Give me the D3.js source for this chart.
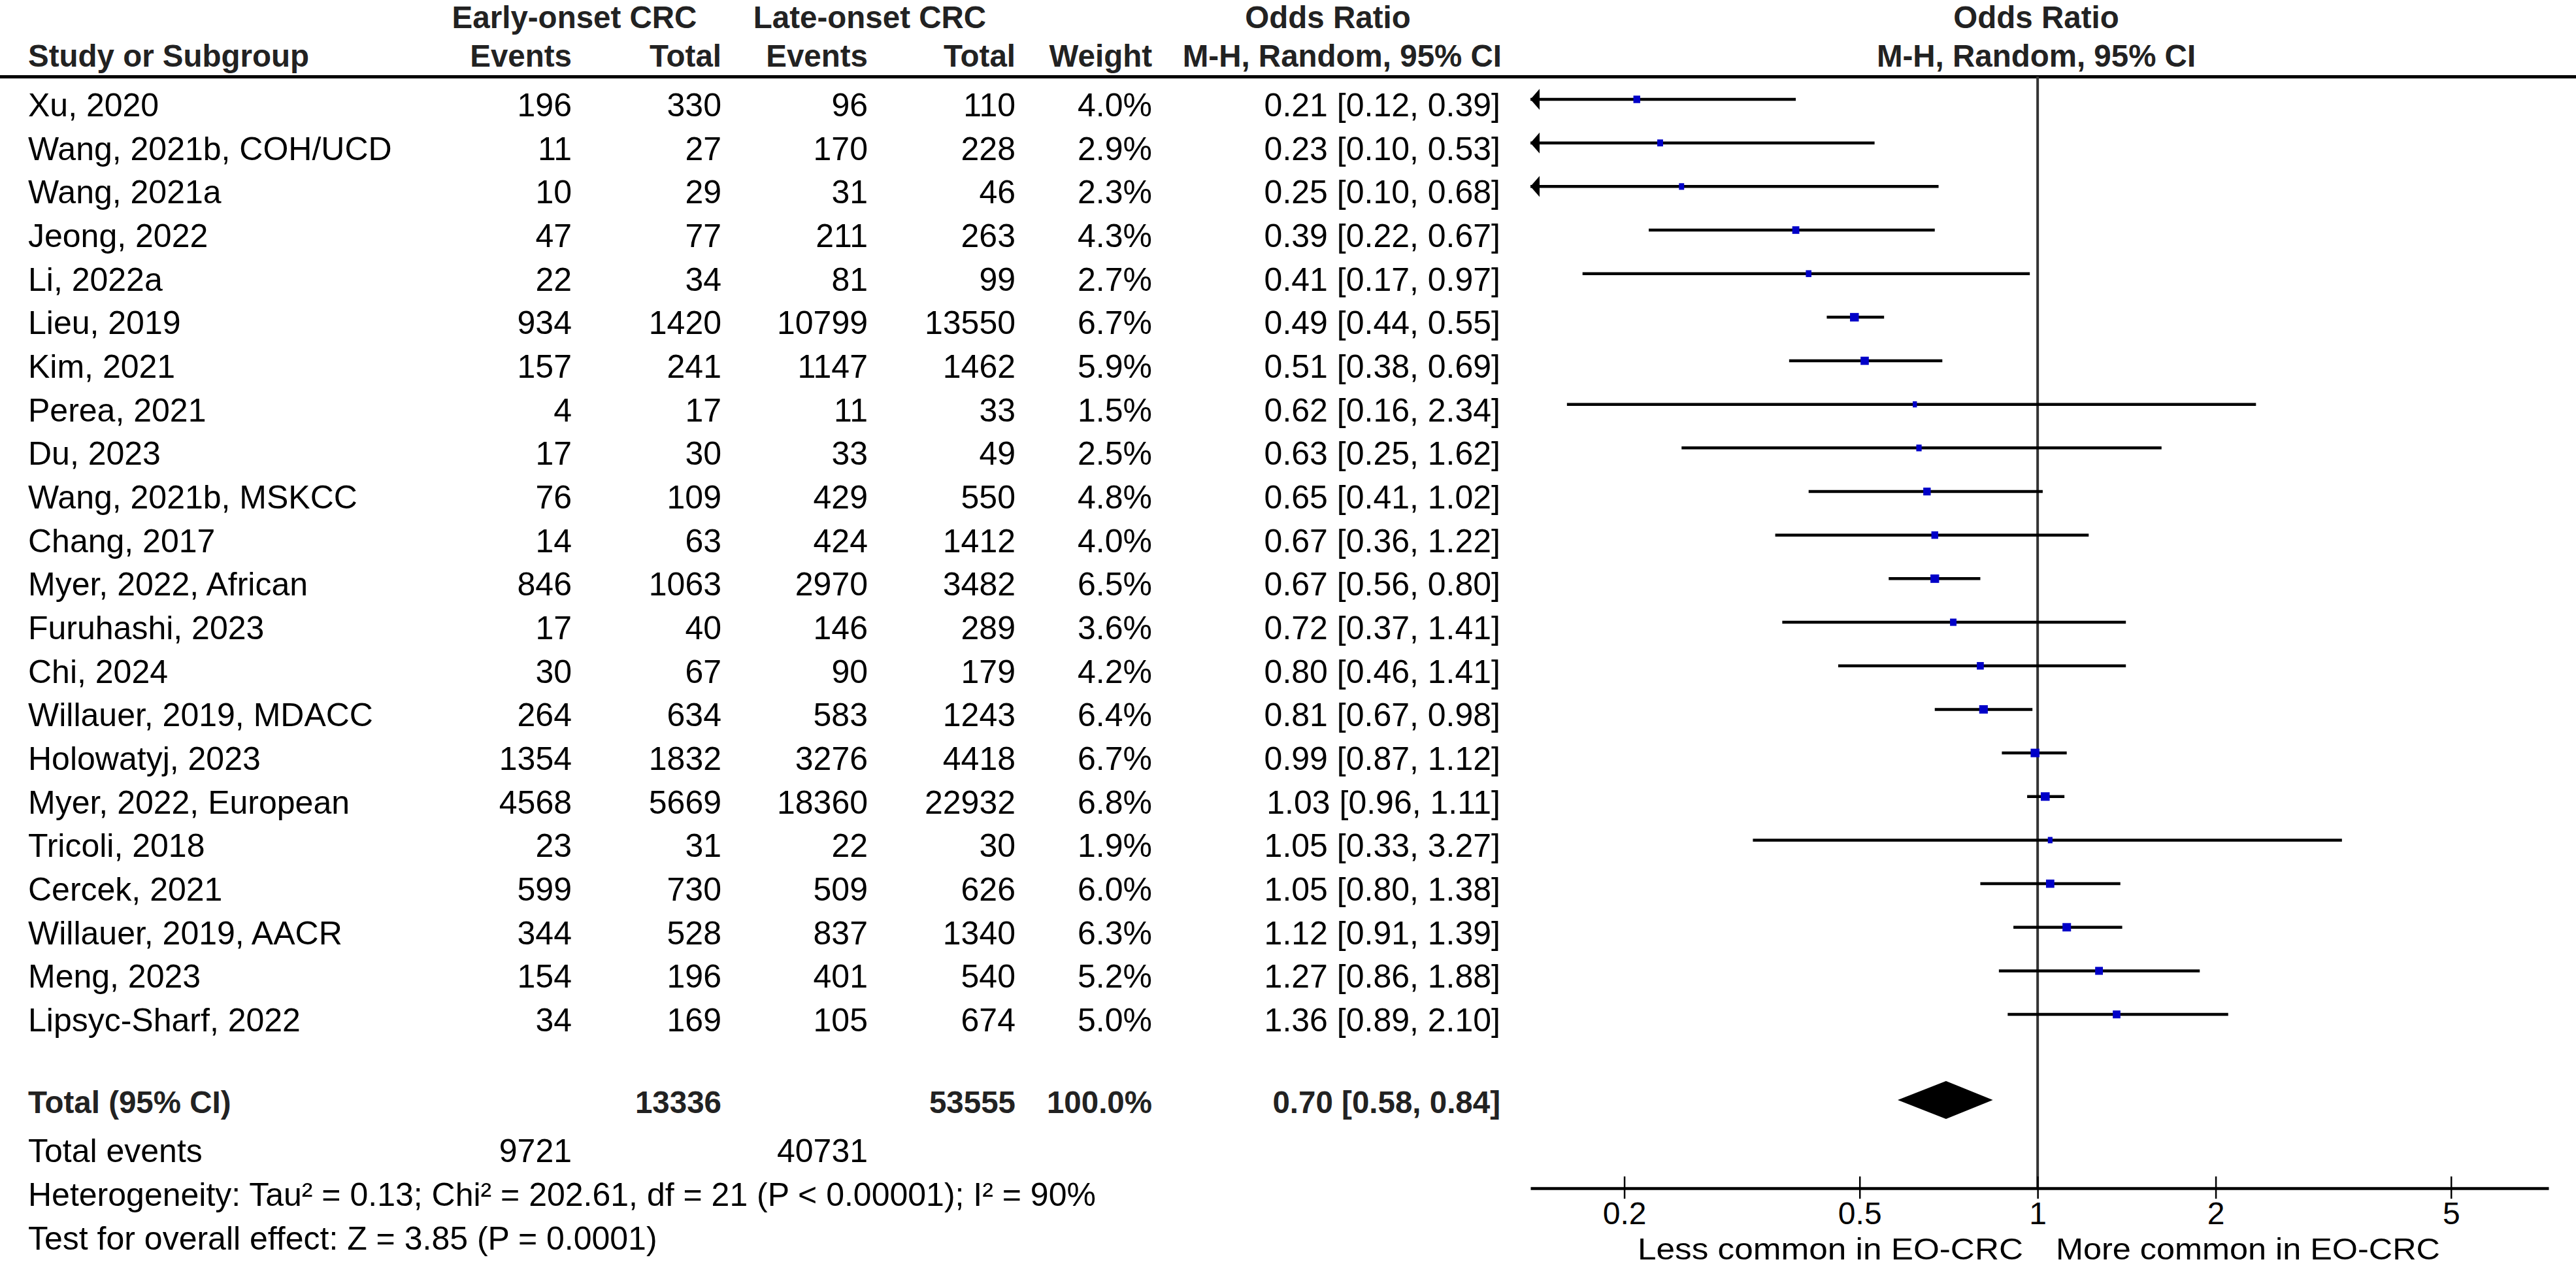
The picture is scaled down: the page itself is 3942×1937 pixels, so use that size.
<!DOCTYPE html>
<html>
<head>
<meta charset="utf-8">
<script src="https://cdn.jsdelivr.net/npm/d3@7"></script>
<style>
  body { margin: 0; background: #fff; }
  svg { display: block; }
  text { font-family: "Liberation Sans", Arial, sans-serif; }
</style>
</head>
<body>
<div id="chart"></div>
<script>
// studies, top to bottom
const studies = ["Xu, 2020", "Wang, 2021b, COH/UCD", "Wang, 2021a", "Jeong, 2022", "Li, 2022a",
  "Lieu, 2019", "Kim, 2021", "Perea, 2021", "Du, 2023", "Wang, 2021b, MSKCC", "Chang, 2017",
  "Myer, 2022, African", "Furuhashi, 2023", "Chi, 2024", "Willauer, 2019, MDACC", "Holowatyj, 2023",
  "Myer, 2022, European", "Tricoli, 2018", "Cercek, 2021", "Willauer, 2019, AACR", "Meng, 2023",
  "Lipsyc-Sharf, 2022"];
const eoEvents = [196, 11, 10, 47, 22, 934, 157, 4, 17, 76, 14, 846, 17, 30, 264, 1354, 4568, 23, 599, 344, 154, 34];
const eoTotal = [330, 27, 29, 77, 34, 1420, 241, 17, 30, 109, 63, 1063, 40, 67, 634, 1832, 5669, 31, 730, 528, 196, 169];
const loEvents = [96, 170, 31, 211, 81, 10799, 1147, 11, 33, 429, 424, 2970, 146, 90, 583, 3276, 18360, 22, 509, 837, 401, 105];
const loTotal = [110, 228, 46, 263, 99, 13550, 1462, 33, 49, 550, 1412, 3482, 289, 179, 1243, 4418, 22932, 30, 626, 1340, 540, 674];
const weights = [4.0, 2.9, 2.3, 4.3, 2.7, 6.7, 5.9, 1.5, 2.5, 4.8, 4.0, 6.5, 3.6, 4.2, 6.4, 6.7, 6.8, 1.9, 6.0, 6.3, 5.2, 5.0];
const oddsRatio = [0.21, 0.23, 0.25, 0.39, 0.41, 0.49, 0.51, 0.62, 0.63, 0.65, 0.67, 0.67, 0.72, 0.80, 0.81, 0.99, 1.03, 1.05, 1.05, 1.12, 1.27, 1.36];
const ciLow = [0.12, 0.10, 0.10, 0.22, 0.17, 0.44, 0.38, 0.16, 0.25, 0.41, 0.36, 0.56, 0.37, 0.46, 0.67, 0.87, 0.96, 0.33, 0.80, 0.91, 0.86, 0.89];
const ciHigh = [0.39, 0.53, 0.68, 0.67, 0.97, 0.55, 0.69, 2.34, 1.62, 1.02, 1.22, 0.80, 1.41, 1.41, 0.98, 1.12, 1.11, 3.27, 1.38, 1.39, 1.88, 2.10];

// pooled result
const totalEo = 13336, totalLo = 53555, totalWeight = 100.0;
const pooled = [0.70, 0.58, 0.84];
const totalEventsEo = 9721, totalEventsLo = 40731;
const heterogeneity = "Heterogeneity: Tau² = 0.13; Chi² = 202.61, df = 21 (P < 0.00001); I² = 90%";
const overallTest = "Test for overall effect: Z = 3.85 (P = 0.0001)";

const axisTicks = [0.2, 0.5, 1, 2, 5];
const leftLabel = "Less common in EO-CRC";
const rightLabel = "More common in EO-CRC";

const W = 3942, H = 1937;
const svg = d3.select("#chart").append("svg").attr("width", W).attr("height", H);

const fs = 50, fsBold = 47.5;
const rowY0 = 178, rowStep = 66.67;   // baseline of first study row
const rowBase = i => rowY0 + i * rowStep;
const lineOff = 26;                  // CI line sits this far above the text baseline

const x = d3.scaleLog().domain([0.1388, 7.31]).range([2342, 3900]);
const fmt2 = d3.format(".2f");

function txt(g, s, xx, yy, anchor, bold) {
  return g.append("text").attr("x", xx).attr("y", yy)
    .attr("text-anchor", anchor || "start")
    .attr("font-size", bold ? fsBold : fs)
    .attr("font-weight", bold ? "bold" : "normal")
    .attr("fill", bold ? "#222" : "#000")
    .text(s);
}

// headers
const hdr = svg.append("g");
txt(hdr, "Early-onset CRC", 879, 43, "middle", true);
txt(hdr, "Late-onset CRC", 1331, 43, "middle", true);
txt(hdr, "Odds Ratio", 2032, 43, "middle", true);
txt(hdr, "Odds Ratio", 3116, 43, "middle", true);
txt(hdr, "Study or Subgroup", 43, 102, "start", true);
txt(hdr, "Events", 875, 102, "end", true);
txt(hdr, "Total", 1104, 102, "end", true);
txt(hdr, "Events", 1328, 102, "end", true);
txt(hdr, "Total", 1554, 102, "end", true);
txt(hdr, "Weight", 1763, 102, "end", true);
txt(hdr, "M-H, Random, 95% CI", 2298, 102, "end", true);
txt(hdr, "M-H, Random, 95% CI", 3116, 102, "middle", true);

svg.append("line").attr("x1", 0).attr("x2", W).attr("y1", 117.5).attr("y2", 117.5)
  .attr("stroke", "#000").attr("stroke-width", 5);

// line of no effect
const axisY = 1818;
svg.append("line").attr("x1", x(1)).attr("x2", x(1)).attr("y1", 117).attr("y2", axisY)
  .attr("stroke", "#333").attr("stroke-width", 4);

// study rows
const rows = svg.append("g").selectAll("g").data(studies).join("g");
rows.each(function (name, i) {
  const g = d3.select(this);
  const yb = rowBase(i);
  txt(g, name, 43, yb);
  txt(g, eoEvents[i], 875, yb, "end");
  txt(g, eoTotal[i], 1104, yb, "end");
  txt(g, loEvents[i], 1328, yb, "end");
  txt(g, loTotal[i], 1554, yb, "end");
  txt(g, weights[i].toFixed(1) + "%", 1763, yb, "end");
  txt(g, fmt2(oddsRatio[i]) + " [" + fmt2(ciLow[i]) + ", " + fmt2(ciHigh[i]) + "]", 2296, yb, "end");

  const yl = yb - lineOff;
  const [d0] = x.domain();
  const clipped = ciLow[i] < d0;
  const x1 = clipped ? x.range()[0] : x(ciLow[i]);
  g.append("line").attr("x1", x1).attr("x2", x(ciHigh[i]))
    .attr("y1", yl).attr("y2", yl).attr("stroke", "#000").attr("stroke-width", 4.5);
  if (clipped) {
    g.append("path")
      .attr("d", `M${x1},${yl} L${x1 + 14},${yl - 16} L${x1 + 14},${yl + 16} Z`)
      .attr("fill", "#000");
  }
  const bw = 5.2 * Math.sqrt(weights[i]);
  const bh = 6 + 2.7 * Math.sqrt(weights[i]);
  g.append("rect").attr("x", x(oddsRatio[i]) - bw / 2).attr("y", yl - bh / 2)
    .attr("width", bw).attr("height", bh).attr("fill", "#0000c8");
});

// pooled row and footer
const ft = svg.append("g");
const totY = 1703;
txt(ft, "Total (95% CI)", 43, totY, "start", true);
txt(ft, totalEo, 1104, totY, "end", true);
txt(ft, totalLo, 1554, totY, "end", true);
txt(ft, totalWeight.toFixed(1) + "%", 1763, totY, "end", true);
txt(ft, fmt2(pooled[0]) + " [" + fmt2(pooled[1]) + ", " + fmt2(pooled[2]) + "]", 2296, totY, "end", true);

const dy = totY - 20;
ft.append("path")
  .attr("d", `M${x(pooled[1])},${dy} L${x(pooled[0])},${dy - 29} L${x(pooled[2])},${dy} L${x(pooled[0])},${dy + 29} Z`)
  .attr("fill", "#000");

txt(ft, "Total events", 43, 1778);
txt(ft, totalEventsEo, 875, 1778, "end");
txt(ft, totalEventsLo, 1328, 1778, "end");
txt(ft, heterogeneity, 43, 1845);
txt(ft, overallTest, 43, 1912);

// x axis
const ax = svg.append("g").attr("transform", `translate(0,${axisY})`)
  .call(d3.axisBottom(x).tickValues(axisTicks).tickFormat(d => String(d)).tickSizeOuter(0));
ax.select(".domain").attr("stroke", "#000").attr("stroke-width", 4.5);
ax.selectAll(".tick line").attr("y1", -18).attr("y2", 16).attr("stroke", "#000").attr("stroke-width", 2.5);
ax.selectAll(".tick text").attr("y", 55).attr("dy", 0)
  .attr("font-size", 48).attr("fill", "#000")
  .attr("font-family", '"Liberation Sans", Arial, sans-serif');

// direction labels under the axis
txt(svg, leftLabel, 3096, 1927, "end").attr("font-size", 46)
  .attr("textLength", 590).attr("lengthAdjust", "spacingAndGlyphs");
txt(svg, rightLabel, 3146, 1927, "start").attr("font-size", 46)
  .attr("textLength", 588).attr("lengthAdjust", "spacingAndGlyphs");
</script>
</body>
</html>
